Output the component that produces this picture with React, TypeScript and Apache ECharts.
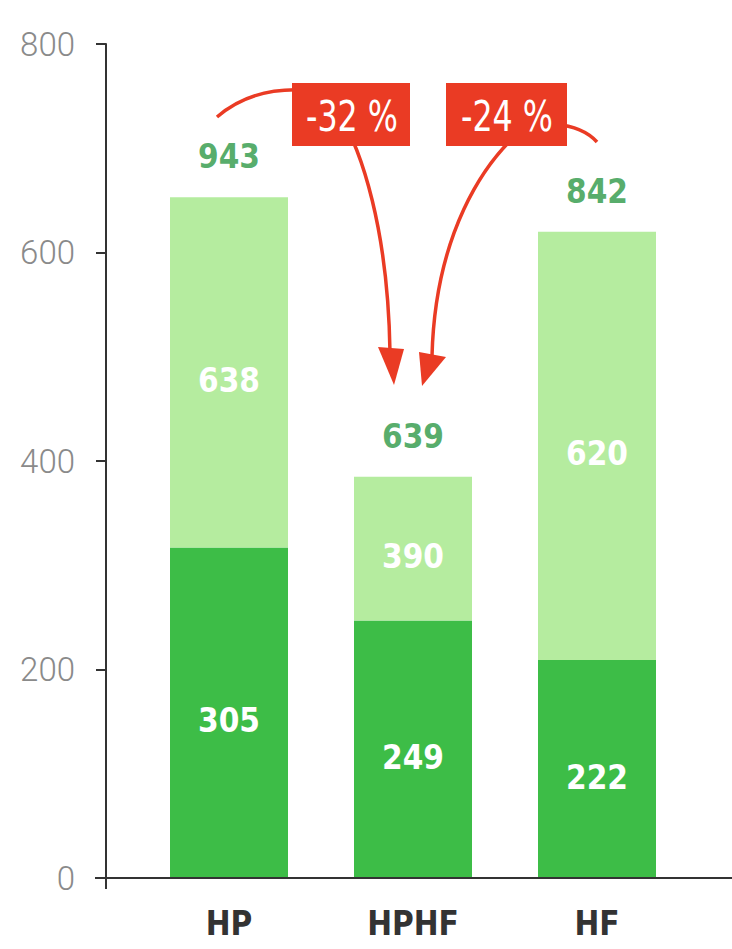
import { useEffect, useRef } from 'react';
import * as echarts from 'echarts';

// ---- data ----
const categories = ['HP', 'HPHF', 'HF'];
// heights of the bars as drawn (axis units)
const darkBarTops = [317, 247, 209];
const lightBarTops = [653, 385, 620];
// printed values
const darkValues = [305, 249, 222];
const lightValues = [638, 390, 620];
const changeLabels = ['-32 %', '-24 %'];
const yMin = 0;
const yMax = 800;
const yInterval = 200;

const totals = darkValues.map((v, i) => v + lightValues[i]);
const lightSegments = lightBarTops.map((v, i) => v - darkBarTops[i]);

const FONT = '"DejaVu Sans Condensed", "DejaVu Sans", sans-serif';
const RED = '#ea3b24';

export default function App() {
  const ref = useRef<HTMLDivElement>(null);
  useEffect(() => {
    if (!ref.current) return;
    const chart = echarts.init(ref.current, undefined, { renderer: 'svg' });
    const gridLeft = 137;
    const gridTop = 44;
    const gridBottom = 71;
    const axisY = 949 - gridBottom;
    const boxText = (text: string, x: number) => ({
      type: 'text',
      x,
      y: 116,
      scaleX: 0.84,
      style: {
        text,
        fill: '#ffffff',
        fontFamily: FONT,
        fontSize: 42,
        align: 'center',
        verticalAlign: 'middle',
        textAlign: 'center',
        textVerticalAlign: 'middle',
      },
      z: 31,
    });
    chart.setOption({
      animation: false,
      backgroundColor: '#ffffff',
      grid: { left: gridLeft, right: 43, top: gridTop, bottom: gridBottom, containLabel: false },
      xAxis: {
        type: 'category',
        data: categories,
        axisLine: { show: false },
        axisTick: { show: false },
        axisLabel: {
          color: '#333333',
          fontFamily: FONT,
          fontWeight: 'bold',
          fontSize: 33,
          margin: 29,
        },
      },
      yAxis: {
        type: 'value',
        min: yMin,
        max: yMax,
        interval: yInterval,
        offset: 31,
        splitLine: { show: false },
        axisLine: { show: true, lineStyle: { color: '#333', width: 2 } },
        axisTick: { show: true, length: 10, inside: false, lineStyle: { color: '#333', width: 2 } },
        axisLabel: {
          color: '#8a8a8a',
          fontFamily: 'Roboto, ' + FONT,
          fontWeight: 300,
          fontSize: 33,
          margin: 31,
        },
      },
      series: [
        {
          type: 'bar',
          stack: 'a',
          barWidth: 118,
          data: darkBarTops,
          itemStyle: { color: '#3dbd47' },
          label: {
            show: true,
            position: 'inside',
            offset: [0, 8],
            color: '#ffffff',
            fontFamily: FONT,
            fontWeight: 'bold',
            fontSize: 33,
            formatter: (p: any) => String(darkValues[p.dataIndex]),
          },
        },
        {
          type: 'bar',
          stack: 'a',
          barWidth: 118,
          data: lightSegments,
          itemStyle: { color: '#b5ec9f' },
          label: {
            show: true,
            position: 'inside',
            offset: [0, 8],
            color: '#ffffff',
            fontFamily: FONT,
            fontWeight: 'bold',
            fontSize: 33,
            formatter: (p: any) => String(lightValues[p.dataIndex]),
          },
        },
        {
          type: 'scatter',
          data: lightBarTops,
          symbolSize: 0,
          silent: true,
          label: {
            show: true,
            position: 'top',
            distance: 24,
            color: '#2a9744',
            fontFamily: FONT,
            fontWeight: 'bold',
            fontSize: 33,
            formatter: (p: any) => String(totals[p.dataIndex]),
          },
        },
      ],
      graphic: [
        // extended x axis line
        {
          type: 'line',
          shape: { x1: 95, y1: axisY, x2: 732, y2: axisY },
          style: { stroke: '#333', lineWidth: 2 },
          z: 10,
        },
        {
          type: 'line',
          shape: { x1: 106, y1: axisY, x2: 106, y2: axisY + 11 },
          style: { stroke: '#333', lineWidth: 2 },
          z: 10,
        },
        // arrow 1: HP -> HPHF
        {
          type: 'bezierCurve',
          shape: { x1: 217, y1: 117, cpx1: 240, cpy1: 97, cpx2: 268, cpy2: 88, x2: 305, y2: 90 },
          style: { stroke: RED, lineWidth: 3.5, fill: 'none' },
          z: 20,
        },
        {
          type: 'bezierCurve',
          shape: { x1: 338, y1: 112, cpx1: 362, cpy1: 150, cpx2: 388, cpy2: 230, x2: 390, y2: 352 },
          style: { stroke: RED, lineWidth: 3.5, fill: 'none' },
          z: 20,
        },
        {
          type: 'polygon',
          shape: { points: [[378, 347], [404, 349], [394, 385]] },
          style: { fill: RED },
          z: 20,
        },
        // arrow 2: HF -> HPHF
        {
          type: 'bezierCurve',
          shape: { x1: 597, y1: 142, cpx1: 588, cpy1: 132, cpx2: 575, cpy2: 126, x2: 555, y2: 124 },
          style: { stroke: RED, lineWidth: 3.5, fill: 'none' },
          z: 20,
        },
        {
          type: 'bezierCurve',
          shape: { x1: 532, y1: 122, cpx1: 480, cpy1: 160, cpx2: 435, cpy2: 240, x2: 432, y2: 356 },
          style: { stroke: RED, lineWidth: 3.5, fill: 'none' },
          z: 20,
        },
        {
          type: 'polygon',
          shape: { points: [[419, 352], [446, 357], [422, 386]] },
          style: { fill: RED },
          z: 20,
        },
        // boxes
        {
          type: 'rect',
          shape: { x: 292, y: 83, width: 118, height: 63 },
          style: { fill: RED },
          z: 30,
        },
        boxText(changeLabels[0], 352),
        {
          type: 'rect',
          shape: { x: 446, y: 83, width: 121, height: 63 },
          style: { fill: RED },
          z: 30,
        },
        boxText(changeLabels[1], 507),
      ],
    });
    return () => chart.dispose();
  }, []);
  return (
    <div
      ref={ref}
      style={{ position: 'fixed', left: 0, top: 0, width: 732, height: 949, background: '#fff' }}
    />
  );
}
